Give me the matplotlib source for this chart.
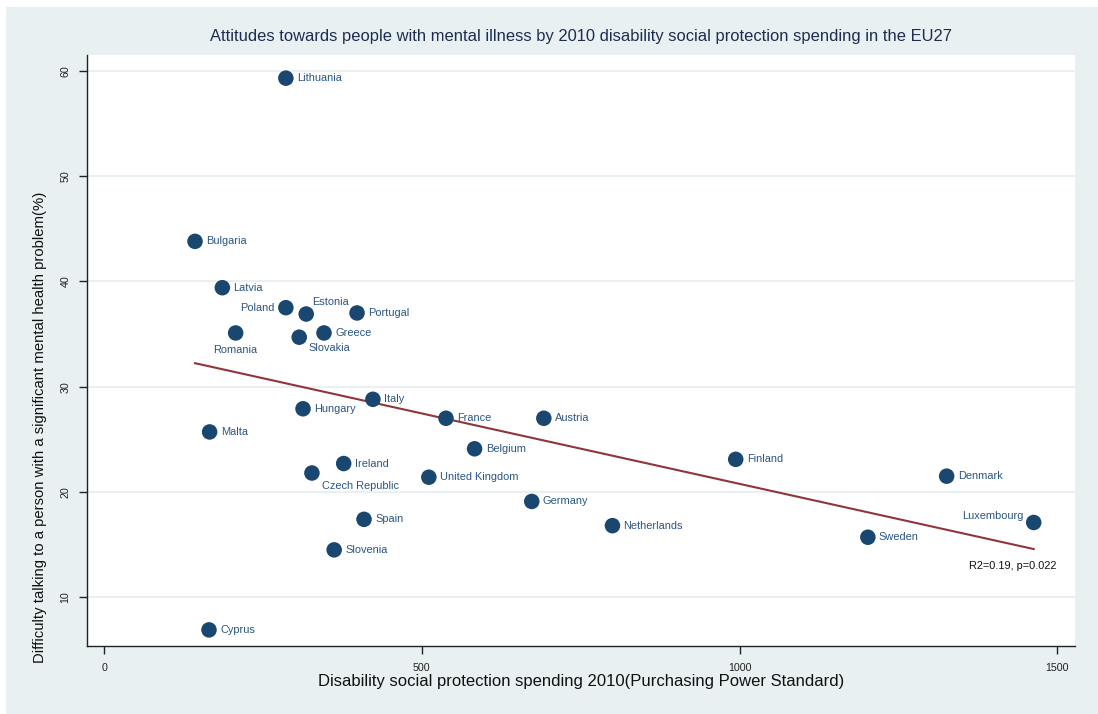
import numpy as np
import matplotlib.pyplot as plt
from matplotlib.patches import Rectangle

plt.rcParams['font.family'] = ['Liberation Sans', 'DejaVu Sans']

# disability social protection spending (PPS) and share reporting difficulty (%)
countries = ["Lithuania", "Bulgaria", "Latvia", "Poland", "Estonia", "Portugal",
             "Romania", "Slovakia", "Greece", "Italy", "Hungary", "France",
             "Austria", "Malta", "Belgium", "Ireland", "Czech Republic",
             "United Kingdom", "Finland", "Denmark", "Germany", "Spain",
             "Netherlands", "Luxembourg", "Sweden", "Slovenia", "Cyprus"]
spending = [286, 143, 186, 286, 318, 398,
            207, 307, 346, 423, 313, 538,
            692, 166, 583, 377, 327,
            511, 994, 1326, 673, 409,
            800, 1463, 1202, 362, 165]
difficulty = [59.3, 43.8, 39.4, 37.5, 36.9, 37.0,
              35.1, 34.7, 35.1, 28.8, 27.9, 27.0,
              27.0, 25.7, 24.1, 22.7, 21.8,
              21.4, 23.1, 21.5, 19.1, 17.4,
              16.8, 17.1, 15.7, 14.5, 6.9]

# label placement: offset in points and alignment (default is to the right)
label_pos = {
    "Poland": ((-8, 0), "right", "center"),
    "Estonia": ((4, 9), "left", "center"),
    "Romania": ((0, -12), "center", "center"),
    "Slovakia": ((7, -8), "left", "center"),
    "Czech Republic": ((7, -9), "left", "center"),
    "Luxembourg": ((-7, 5), "right", "center"),
}

navy = "#1A476F"
label_col = "#2B5584"
bg = "#E8F0F2"

fig = plt.figure(figsize=(10.98, 7.14), dpi=100, facecolor="white")
fig.patches.append(Rectangle((6 / 1098, 0), 1, 1 - 6.5 / 714, transform=fig.transFigure,
                             facecolor=bg, edgecolor="none", zorder=-10))
ax = fig.add_axes([87 / 1098, 1 - 646 / 714, (1075 - 87) / 1098, (646 - 55) / 714])
ax.set_facecolor("white")

ax.scatter(spending, difficulty, s=125, color=navy, edgecolors="none", zorder=3)

for name, xv, yv in zip(countries, spending, difficulty):
    off, ha, va = label_pos.get(name, ((8, 0), "left", "center"))
    ax.annotate(name, (xv, yv), xytext=off, textcoords="offset points",
                ha=ha, va=va, fontsize=7.9, color=label_col, zorder=4)

# linear fit across the observed range
slope, icept = np.polyfit(spending, difficulty, 1)
xs = np.array([min(spending), max(spending)])
ax.plot(xs, icept + slope * xs, color="#90353B", lw=1.5, zorder=2)

ax.text(1361, 13.0, "R2=0.19, p=0.022", fontsize=7.9, color="#111111",
        ha="left", va="center")

ax.set_xlim(-27, 1528)
ax.set_ylim(5.37, 61.5)
ax.set_xticks([0, 500, 1000, 1500])
ax.set_yticks([10, 20, 30, 40, 50, 60])
ax.yaxis.grid(True, color="#E8F0F2", lw=1.5)
ax.set_axisbelow(True)
for side in ("top", "right"):
    ax.spines[side].set_visible(False)
for side in ("left", "bottom"):
    ax.spines[side].set_color("#222222")
    ax.spines[side].set_linewidth(1.0)
ax.tick_params(axis="both", length=6, width=1.0, color="#222222", labelsize=7.7,
               labelcolor="#222222", pad=6)
for lab in ax.get_yticklabels():
    lab.set_rotation(90)
    lab.set_va("center")

ax.set_xlabel("Disability social protection spending 2010(Purchasing Power Standard)",
              fontsize=12, color="#111111", labelpad=1)
ax.set_ylabel("Difficulty talking to a person with a significant mental health problem(%)",
              fontsize=10.7, color="#111111")
ax.yaxis.set_label_coords(-0.04, 0.37)
ax.set_title("Attitudes towards people with mental illness by 2010 disability social protection spending in the EU27",
             fontsize=11.9, color="#1E2D4F", pad=10)

fig.savefig("out.png", dpi=100, facecolor=fig.get_facecolor())
